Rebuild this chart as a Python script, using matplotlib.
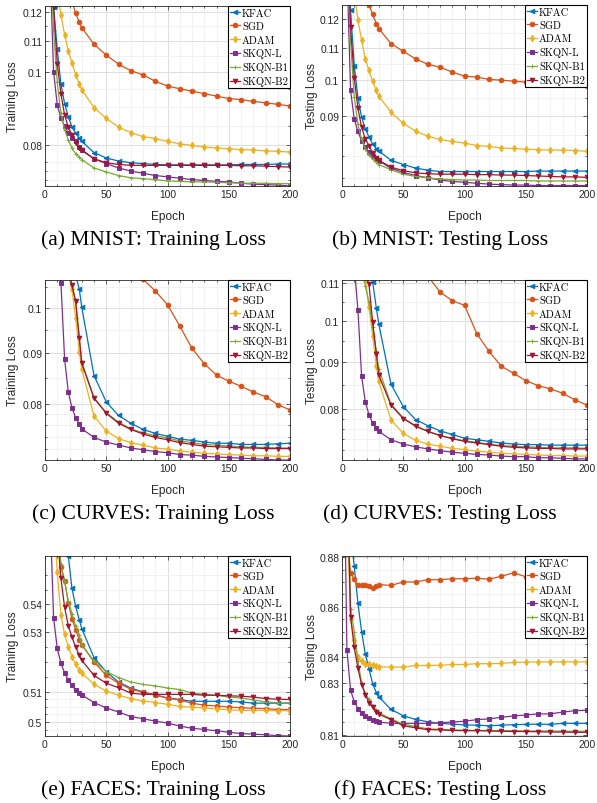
import matplotlib
matplotlib.use("Agg")
import matplotlib.pyplot as plt
from matplotlib.ticker import FixedLocator, FuncFormatter, NullFormatter, MultipleLocator

# epochs at which losses were logged
epochs = [1, 4, 7, 10, 13, 16, 19, 22, 25, 28, 30, 40, 50, 60, 70, 80, 90, 100,
          110, 120, 130, 140, 150, 160, 170, 180, 190, 200]

methods = ['KFAC', 'SGD', 'ADAM', 'SKQN-L', 'SKQN-B1', 'SKQN-B2']

# (a) MNIST training loss
mnist_train_kfac = [0.30, 0.16, 0.122, 0.1073, 0.0965, 0.0909, 0.0873, 0.0847, 0.0830, 0.0818, 0.0810, 0.0783, 0.0770, 0.0763,
                    0.0759, 0.0757, 0.0755, 0.0754, 0.0754, 0.0754, 0.0754, 0.0754, 0.0754, 0.0755, 0.0755, 0.0755, 0.0756, 0.0756]
mnist_train_sgd = [0.22, 0.18, 0.16, 0.148, 0.139, 0.133, 0.128, 0.124, 0.1198, 0.1165, 0.1146, 0.1089, 0.1054, 0.1025,
                   0.1005, 0.0992, 0.0973, 0.0959, 0.0951, 0.0944, 0.0937, 0.0930, 0.0923, 0.0920, 0.0915, 0.0911, 0.0907, 0.0902]
mnist_train_adam = [0.25, 0.18, 0.145, 0.128, 0.1192, 0.1122, 0.1067, 0.1029, 0.0993, 0.0965, 0.0948, 0.0898, 0.0869, 0.0846,
                    0.0832, 0.0822, 0.0817, 0.0810, 0.0804, 0.0800, 0.0796, 0.0794, 0.0792, 0.0790, 0.0789, 0.0787, 0.0786, 0.0784]
mnist_train_skqnl = [0.25, 0.14, 0.1002, 0.0905, 0.0869, 0.0849, 0.0832, 0.0818, 0.0810, 0.0797, 0.0790, 0.0768, 0.0757, 0.0747,
                     0.0740, 0.0735, 0.0730, 0.0727, 0.0724, 0.0721, 0.0719, 0.0717, 0.0716, 0.0713, 0.0711, 0.0710, 0.0709, 0.0707]
mnist_train_skqnb1 = [0.30, 0.15, 0.1139, 0.0970, 0.0882, 0.0839, 0.0814, 0.0794, 0.0780, 0.0772, 0.0766, 0.0747, 0.0738, 0.0730,
                      0.0725, 0.0723, 0.0721, 0.0718, 0.0717, 0.0716, 0.0716, 0.0715, 0.0714, 0.0713, 0.0713, 0.0713, 0.0712, 0.0712]
mnist_train_skqnb2 = [0.30, 0.16, 0.122, 0.1027, 0.0937, 0.0878, 0.0846, 0.0826, 0.0807, 0.0794, 0.0788, 0.0768, 0.0759, 0.0755,
                      0.0753, 0.0753, 0.0753, 0.0753, 0.0753, 0.0753, 0.0753, 0.0753, 0.0753, 0.0752, 0.0752, 0.0751, 0.0750, 0.0749]

# (b) MNIST testing loss
mnist_test_kfac = [0.30, 0.16, 0.123, 0.1045, 0.0950, 0.0897, 0.0867, 0.0846, 0.0829, 0.0817, 0.0812, 0.0790, 0.0780, 0.0772,
                   0.0767, 0.0764, 0.0764, 0.0764, 0.0764, 0.0764, 0.0764, 0.0764, 0.0764, 0.0765, 0.0765, 0.0765, 0.0765, 0.0765]
mnist_test_sgd = [0.22, 0.18, 0.16, 0.148, 0.140, 0.134, 0.129, 0.125, 0.1216, 0.1183, 0.1166, 0.1115, 0.1090, 0.1066,
                  0.1049, 0.1040, 0.1025, 0.1013, 0.1010, 0.1003, 0.1001, 0.0998, 0.0995, 0.0993, 0.0994, 0.0993, 0.0992, 0.0985]
mnist_test_adam = [0.25, 0.18, 0.145, 0.130, 0.1195, 0.1126, 0.1066, 0.1030, 0.0997, 0.0971, 0.0955, 0.0910, 0.0881, 0.0861,
                   0.0848, 0.0840, 0.0835, 0.0831, 0.0825, 0.0823, 0.0819, 0.0818, 0.0816, 0.0815, 0.0814, 0.0814, 0.0813, 0.0811]
mnist_test_skqnl = [0.25, 0.14, 0.0971, 0.0892, 0.0860, 0.0837, 0.0821, 0.0810, 0.0801, 0.0794, 0.0789, 0.0771, 0.0762, 0.0755,
                    0.0750, 0.0745, 0.0742, 0.0740, 0.0738, 0.0736, 0.0735, 0.0734, 0.0734, 0.0733, 0.0733, 0.0733, 0.0733, 0.0733]
mnist_test_skqnb1 = [0.30, 0.15, 0.112, 0.0952, 0.0879, 0.0841, 0.0817, 0.0802, 0.0793, 0.0785, 0.0780, 0.0768, 0.0758, 0.0753,
                     0.0750, 0.0747, 0.0746, 0.0745, 0.0745, 0.0744, 0.0744, 0.0744, 0.0744, 0.0743, 0.0743, 0.0743, 0.0743, 0.0743]
mnist_test_skqnb2 = [0.30, 0.16, 0.117, 0.1008, 0.0921, 0.0871, 0.0841, 0.0825, 0.0807, 0.0796, 0.0790, 0.0774, 0.0766, 0.0761,
                     0.0759, 0.0758, 0.0758, 0.0758, 0.0757, 0.0757, 0.0756, 0.0756, 0.0755, 0.0754, 0.0753, 0.0752, 0.0752, 0.0751]

# (c) CURVES training loss
curves_train_kfac = [0.30, 0.22, 0.18, 0.15, 0.135, 0.125, 0.118, 0.112, 0.108, 0.1045, 0.1002, 0.0854, 0.0803, 0.0778,
                     0.0764, 0.0753, 0.0746, 0.0741, 0.0736, 0.0734, 0.0731, 0.0729, 0.0729, 0.0727, 0.0727, 0.0727, 0.0728, 0.0729]
curves_train_sgd = [0.30, 0.25, 0.22, 0.20, 0.185, 0.175, 0.165, 0.158, 0.152, 0.147, 0.144, 0.131, 0.122, 0.116,
                    0.111, 0.1070, 0.1041, 0.1008, 0.0959, 0.0910, 0.0878, 0.0855, 0.0843, 0.0833, 0.0822, 0.0813, 0.0798, 0.0788]
curves_train_adam = [0.30, 0.22, 0.17, 0.14, 0.125, 0.115, 0.108, 0.1045, 0.0978, 0.0903, 0.0867, 0.0777, 0.0750, 0.0737,
                     0.0730, 0.0726, 0.0721, 0.0719, 0.0716, 0.0714, 0.0712, 0.0711, 0.0710, 0.0709, 0.0708, 0.0708, 0.0707, 0.0707]
curves_train_skqnl = [0.30, 0.20, 0.14, 0.115, 0.1061, 0.0888, 0.0822, 0.0792, 0.0774, 0.0762, 0.0754, 0.0739, 0.0731, 0.0726,
                      0.0721, 0.0718, 0.0715, 0.0713, 0.0710, 0.0709, 0.0707, 0.0706, 0.0705, 0.0704, 0.0703, 0.0702, 0.0701, 0.0701]
curves_train_skqnb1 = [0.30, 0.22, 0.17, 0.14, 0.125, 0.115, 0.110, 0.1055, 0.1014, 0.0934, 0.0881, 0.0811, 0.0783, 0.0766,
                       0.0754, 0.0747, 0.0742, 0.0738, 0.0733, 0.0730, 0.0727, 0.0726, 0.0724, 0.0723, 0.0722, 0.0722, 0.0721, 0.0721]
curves_train_skqnb2 = [0.30, 0.22, 0.17, 0.14, 0.125, 0.115, 0.110, 0.1055, 0.1017, 0.0932, 0.0879, 0.0810, 0.0782, 0.0764,
                       0.0753, 0.0745, 0.0739, 0.0735, 0.0730, 0.0727, 0.0724, 0.0723, 0.0722, 0.0721, 0.0721, 0.0720, 0.0720, 0.0720]

# (d) CURVES testing loss
curves_test_kfac = [0.30, 0.22, 0.18, 0.15, 0.135, 0.125, 0.118, 0.113, 0.1104, 0.1033, 0.0992, 0.0851, 0.0804, 0.0778,
                    0.0766, 0.0756, 0.0749, 0.0742, 0.0739, 0.0736, 0.0733, 0.0731, 0.0730, 0.0730, 0.0729, 0.0729, 0.0729, 0.0729]
curves_test_sgd = [0.30, 0.25, 0.22, 0.20, 0.185, 0.175, 0.165, 0.158, 0.152, 0.147, 0.144, 0.131, 0.122, 0.116,
                   0.112, 0.1076, 0.1052, 0.1040, 0.0968, 0.0925, 0.0891, 0.0875, 0.0859, 0.0848, 0.0841, 0.0832, 0.0818, 0.0807]
curves_test_adam = [0.30, 0.22, 0.17, 0.14, 0.125, 0.117, 0.111, 0.1036, 0.0963, 0.0892, 0.0857, 0.0777, 0.0751, 0.0738,
                    0.0731, 0.0727, 0.0723, 0.0721, 0.0718, 0.0716, 0.0714, 0.0713, 0.0712, 0.0711, 0.0710, 0.0710, 0.0709, 0.0709]
curves_test_skqnl = [0.30, 0.20, 0.14, 0.115, 0.1027, 0.0869, 0.0814, 0.0788, 0.0771, 0.0761, 0.0755, 0.0739, 0.0731, 0.0726,
                     0.0722, 0.0719, 0.0716, 0.0714, 0.0712, 0.0711, 0.0709, 0.0708, 0.0708, 0.0706, 0.0706, 0.0705, 0.0704, 0.0704]
curves_test_skqnb1 = [0.30, 0.22, 0.17, 0.14, 0.125, 0.117, 0.1093, 0.1048, 0.0983, 0.0927, 0.0885, 0.0809, 0.0781, 0.0766,
                      0.0755, 0.0747, 0.0742, 0.0737, 0.0734, 0.0731, 0.0728, 0.0727, 0.0726, 0.0725, 0.0724, 0.0724, 0.0724, 0.0723]
curves_test_skqnb2 = [0.30, 0.22, 0.17, 0.14, 0.125, 0.118, 0.113, 0.1097, 0.0998, 0.0919, 0.0871, 0.0807, 0.0780, 0.0765,
                      0.0755, 0.0747, 0.0741, 0.0736, 0.0733, 0.0730, 0.0727, 0.0725, 0.0724, 0.0723, 0.0723, 0.0722, 0.0722, 0.0722]

# (e) FACES training loss
faces_train_kfac = [0.70, 0.62, 0.59, 0.575, 0.565, 0.560, 0.557, 0.5454, 0.5391, 0.5343, 0.5313, 0.5214, 0.5166, 0.5132,
                    0.5112, 0.5099, 0.5088, 0.5079, 0.5074, 0.5068, 0.5068, 0.5068, 0.5068, 0.5066, 0.5062, 0.5062, 0.5062, 0.5062]
faces_train_sgd = [0.70, 0.62, 0.59, 0.565, 0.553, 0.5481, 0.5403, 0.5348, 0.5309, 0.5275, 0.5258, 0.5199, 0.5154, 0.5128,
                   0.5108, 0.5098, 0.5090, 0.5078, 0.5072, 0.5062, 0.5055, 0.5053, 0.5049, 0.5047, 0.5045, 0.5044, 0.5041, 0.5041]
faces_train_adam = [0.70, 0.62, 0.575, 0.5511, 0.5362, 0.5293, 0.5251, 0.5217, 0.5191, 0.5173, 0.5162, 0.5124, 0.5102, 0.5088,
                    0.5077, 0.5069, 0.5064, 0.5058, 0.5051, 0.5049, 0.5046, 0.5043, 0.5040, 0.5038, 0.5038, 0.5038, 0.5037, 0.5037]
faces_train_skqnl = [0.62, 0.575, 0.5351, 0.5245, 0.5195, 0.5163, 0.5138, 0.5121, 0.5105, 0.5096, 0.5089, 0.5064, 0.5046, 0.5033,
                     0.5018, 0.5011, 0.5003, 0.4997, 0.4987, 0.4980, 0.4976, 0.4972, 0.4967, 0.4963, 0.4961, 0.4959, 0.4956, 0.4955]
faces_train_skqnb1 = [0.70, 0.62, 0.59, 0.570, 0.554, 0.548, 0.541, 0.5365, 0.5323, 0.5290, 0.5258, 0.5202, 0.5167, 0.5147,
                      0.5132, 0.5124, 0.5119, 0.5112, 0.5107, 0.5095, 0.5091, 0.5088, 0.5082, 0.5079, 0.5073, 0.5066, 0.5063, 0.5062]
faces_train_skqnb2 = [0.70, 0.62, 0.59, 0.565, 0.549, 0.5387, 0.5323, 0.5284, 0.5250, 0.5222, 0.5205, 0.5154, 0.5128, 0.5113,
                      0.5095, 0.5091, 0.5091, 0.5091, 0.5091, 0.5091, 0.5088, 0.5088, 0.5086, 0.5085, 0.5082, 0.5077, 0.5075, 0.5074]

# (f) FACES testing loss
faces_test_kfac = [0.98, 0.92, 0.89, 0.8764, 0.8614, 0.8500, 0.8412, 0.8355, 0.8296, 0.8262, 0.8246, 0.8197, 0.8173, 0.8159,
                   0.8150, 0.8144, 0.8141, 0.8138, 0.8137, 0.8135, 0.8137, 0.8139, 0.8140, 0.8141, 0.8140, 0.8144, 0.8144, 0.8144]
faces_test_sgd = [0.95, 0.89, 0.8736, 0.8711, 0.8686, 0.8689, 0.8686, 0.8683, 0.8676, 0.8683, 0.8689, 0.8686, 0.8700, 0.8700,
                  0.8709, 0.8709, 0.8713, 0.8713, 0.8715, 0.8711, 0.8723, 0.8737, 0.8721, 0.8717, 0.8717, 0.8726, 0.8723, 0.8732]
faces_test_adam = [0.98, 0.90, 0.855, 0.8466, 0.8399, 0.8384, 0.8374, 0.8371, 0.8369, 0.8365, 0.8362, 0.8361, 0.8361, 0.8367,
                   0.8367, 0.8368, 0.8371, 0.8371, 0.8374, 0.8374, 0.8375, 0.8379, 0.8380, 0.8381, 0.8381, 0.8381, 0.8381, 0.8381]
faces_test_skqnl = [0.95, 0.8429, 0.8271, 0.8227, 0.8200, 0.8184, 0.8172, 0.8164, 0.8158, 0.8152, 0.8149, 0.8144, 0.8144, 0.8144,
                    0.8144, 0.8146, 0.8149, 0.8152, 0.8158, 0.8161, 0.8167, 0.8172, 0.8176, 0.8180, 0.8180, 0.8187, 0.8192, 0.8194]
faces_test_skqnb1 = [0.98, 0.92, 0.859, 0.850, 0.8384, 0.8299, 0.8259, 0.8236, 0.8212, 0.8195, 0.8185, 0.8161, 0.8141, 0.8132,
                     0.8123, 0.8121, 0.8119, 0.8118, 0.8117, 0.8117, 0.8116, 0.8116, 0.8115, 0.8115, 0.8115, 0.8114, 0.8114, 0.8114]
faces_test_skqnb2 = [0.98, 0.92, 0.856, 0.8438, 0.8356, 0.8292, 0.8254, 0.8223, 0.8205, 0.8188, 0.8179, 0.8158, 0.8135, 0.8127,
                     0.8120, 0.8119, 0.8117, 0.8116, 0.8116, 0.8115, 0.8114, 0.8113, 0.8113, 0.8112, 0.8111, 0.8111, 0.8110, 0.8110]

panels = [
    ("(a) MNIST: Training Loss", "Training Loss",
     [mnist_train_kfac, mnist_train_sgd, mnist_train_adam, mnist_train_skqnl, mnist_train_skqnb1, mnist_train_skqnb2],
     (0.0707, 0.1224), [0.08, 0.1, 0.11, 0.12],
     [0.072, 0.074, 0.076, 0.085, 0.09, 0.095, 0.105, 0.115]),
    ("(b) MNIST: Testing Loss", "Testing Loss",
     [mnist_test_kfac, mnist_test_sgd, mnist_test_adam, mnist_test_skqnl, mnist_test_skqnb1, mnist_test_skqnb2],
     (0.0732, 0.1250), [0.09, 0.1, 0.11, 0.12],
     [0.075, 0.08, 0.085, 0.095, 0.105, 0.115]),
    ("(c) CURVES: Training Loss", "Training Loss",
     [curves_train_kfac, curves_train_sgd, curves_train_adam, curves_train_skqnl, curves_train_skqnb1, curves_train_skqnb2],
     (0.0701, 0.1068), [0.08, 0.09, 0.1],
     [0.072, 0.074, 0.076, 0.078, 0.085, 0.095, 0.105]),
    ("(d) CURVES: Testing Loss", "Testing Loss",
     [curves_test_kfac, curves_test_sgd, curves_test_adam, curves_test_skqnl, curves_test_skqnb1, curves_test_skqnb2],
     (0.0702, 0.1109), [0.08, 0.09, 0.1, 0.11],
     [0.072, 0.074, 0.076, 0.078, 0.085, 0.095, 0.105]),
    ("(e) FACES: Training Loss", "Training Loss",
     [faces_train_kfac, faces_train_sgd, faces_train_adam, faces_train_skqnl, faces_train_skqnb1, faces_train_skqnb2],
     (0.4955, 0.557), [0.5, 0.51, 0.53, 0.54],
     [0.4975, 0.5025, 0.505, 0.5075, 0.515, 0.52, 0.525, 0.535, 0.545, 0.55]),
    ("(f) FACES: Testing Loss", "Testing Loss",
     [faces_test_kfac, faces_test_sgd, faces_test_adam, faces_test_skqnl, faces_test_skqnb1, faces_test_skqnb2],
     (0.8096, 0.8806), [0.81, 0.83, 0.84, 0.86, 0.88],
     [0.815, 0.82, 0.825, 0.835, 0.845, 0.85, 0.855, 0.865, 0.87, 0.875]),
]

colors = ['#0072BD', '#D95319', '#EDB120', '#7E2F8E', '#77AC30', '#A2142F']
markers = ['<', 'o', 'd', 's', '+', 'v']

W, H = 597, 804
fig = plt.figure(figsize=(W / 100, H / 100), dpi=100)

# axes boxes in pixels: left, right, top, bottom
boxes = [(45, 290, 7, 187), (342, 587, 6, 187),
         (45, 290, 281, 461), (342, 587, 281, 461),
         (45, 290, 557, 737), (342, 587, 557, 737)]
ylabel_right = [19, 318, 19, 318, 19, 318]
caption_xy = [(153, 240), (440, 240), (153, 514), (440, 514), (153, 790), (440, 790)]

for i, (caption, ylab, series, ylim, yticks, yminor) in enumerate(panels):
    l, r, t, b = boxes[i]
    ax = fig.add_axes([l / W, 1 - b / H, (r - l) / W, (b - t) / H])
    for name, vals, c, m in zip(methods, series, colors, markers):
        ax.plot(epochs, vals, color=c, marker=m, markersize=3.3, markeredgewidth=0.7,
                linewidth=0.9, label=name)
    ax.set_yscale('log')
    ax.set_xlim(0, 200)
    ax.set_ylim(*ylim)
    ax.xaxis.set_major_locator(FixedLocator([0, 50, 100, 150, 200]))
    ax.xaxis.set_minor_locator(MultipleLocator(10))
    ax.yaxis.set_major_locator(FixedLocator(yticks))
    ax.yaxis.set_minor_locator(FixedLocator(yminor))
    ax.yaxis.set_major_formatter(FuncFormatter(lambda v, p: f"{v:g}"))
    ax.yaxis.set_minor_formatter(NullFormatter())
    ax.grid(which='major', color='0.85', linewidth=0.6)
    ax.grid(which='minor', color='0.93', linewidth=0.5)
    ax.set_axisbelow(True)
    for s in ax.spines.values():
        s.set_color('0.15')
        s.set_linewidth(0.6)
    ax.tick_params(which='both', direction='in', top=True, right=True, colors='0.15',
                   labelsize=7.4, pad=2, width=0.5)
    ax.tick_params(which='major', length=3)
    ax.tick_params(which='minor', length=1.5)
    for lbl in ax.get_xticklabels() + ax.get_yticklabels():
        lbl.set_fontfamily('Liberation Sans')
    ax.set_xlabel('Epoch', fontsize=8.6, family='Liberation Sans', color='0.15')
    ax.set_ylabel(ylab, fontsize=8.6, family='Liberation Sans', color='0.15')
    ax.xaxis.set_label_coords(0.5, -24 / (b - t))
    ax.yaxis.set_label_coords((ylabel_right[i] - l) / (r - l), 0.5)
    leg = ax.legend(loc='upper right', bbox_to_anchor=(1, 1), borderaxespad=0,
                    prop={'family': 'cmr10', 'size': 7.5}, fancybox=False,
                    framealpha=1, edgecolor='black', handlelength=1.0,
                    handletextpad=0.15, borderpad=0.2, labelspacing=0.38)
    leg.get_frame().set_linewidth(0.8)
    fig.text(caption_xy[i][0] / W, 1 - caption_xy[i][1] / H, caption,
             ha='center', va='center', fontsize=15.5, family='Liberation Serif')

fig.savefig('out.png', dpi=100)
